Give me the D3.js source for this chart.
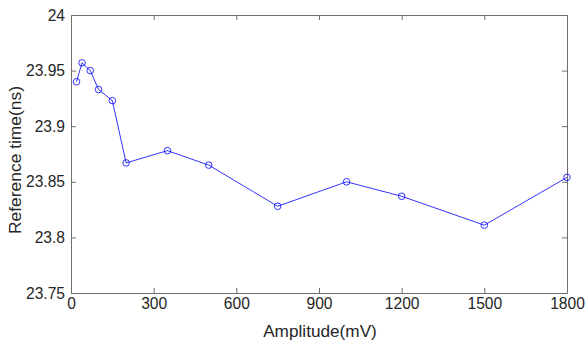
<!DOCTYPE html>
<html><head><meta charset="utf-8">
<script src="https://cdn.jsdelivr.net/npm/d3@7"></script>
<style>body{margin:0;background:#fff}svg{display:block}text{font-family:"Liberation Sans",Arial,sans-serif}</style>
</head><body><svg id="c" width="585" height="344"></svg>
<script>
const amplitude = [20, 40, 70, 100, 150, 200, 350, 500, 750, 1000, 1200, 1500, 1800];
const refTime = [23.940, 23.957, 23.950, 23.933, 23.923, 23.867, 23.878, 23.865, 23.828, 23.850, 23.837, 23.811, 23.854];
const xTicks = [0, 300, 600, 900, 1200, 1500, 1800];
const yTicks = [23.75, 23.8, 23.85, 23.9, 23.95, 24];
const yTickLabels = ["23.75", "23.8", "23.85", "23.9", "23.95", "24"];

const svg = d3.select("#c");
const L = 71, R = 567, T = 15, B = 293;
const x = d3.scaleLinear().domain([0, 1800]).range([L, R]);
const y = d3.scaleLinear().domain([23.75, 24]).range([B, T]);
const axisColor = "#6e6e6e", textColor = "#262626";

function style(g) {
  g.select(".domain").attr("stroke", axisColor);
  g.selectAll(".tick line").attr("stroke", axisColor);
  g.selectAll(".tick text").attr("fill", textColor).style("font-size", "15.6px");
}
// bottom
svg.append("g").attr("transform", `translate(0,${B})`)
  .call(d3.axisBottom(x).tickValues(xTicks).tickSizeInner(-5).tickSizeOuter(0).tickPadding(5).tickFormat(d3.format("d")))
  .call(style);
// top
svg.append("g").attr("transform", `translate(0,${T})`)
  .call(d3.axisTop(x).tickValues(xTicks).tickSizeInner(-5).tickSizeOuter(0).tickFormat(""))
  .call(style);
// left
svg.append("g").attr("transform", `translate(${L},0)`)
  .call(d3.axisLeft(y).tickValues(yTicks).tickSizeInner(-5).tickSizeOuter(0).tickPadding(6).tickFormat((d, i) => yTickLabels[i]))
  .call(style);
// right
svg.append("g").attr("transform", `translate(${R},0)`)
  .call(d3.axisRight(y).tickValues(yTicks).tickSizeInner(-5).tickSizeOuter(0).tickFormat(""))
  .call(style);

const data = amplitude.map((a, i) => ({a, t: refTime[i]}));
svg.append("path").datum(data)
  .attr("fill", "none").attr("stroke", "#0000ff").attr("stroke-width", 0.8)
  .attr("d", d3.line().x(d => x(d.a)).y(d => y(d.t)));
svg.selectAll("circle.m").data(data).enter().append("circle")
  .attr("cx", d => x(d.a)).attr("cy", d => y(d.t)).attr("r", 3.3)
  .attr("fill", "none").attr("stroke", "#0000ff").attr("stroke-width", 0.8);

svg.append("text").attr("x", 320).attr("y", 337).attr("text-anchor", "middle")
  .attr("fill", textColor).style("font-size", "17.2px").text("Amplitude(mV)");
svg.append("text").attr("transform", `translate(21,160) rotate(-90)`).attr("text-anchor", "middle")
  .attr("fill", textColor).style("font-size", "17.4px").text("Reference time(ns)");
</script></body></html>
